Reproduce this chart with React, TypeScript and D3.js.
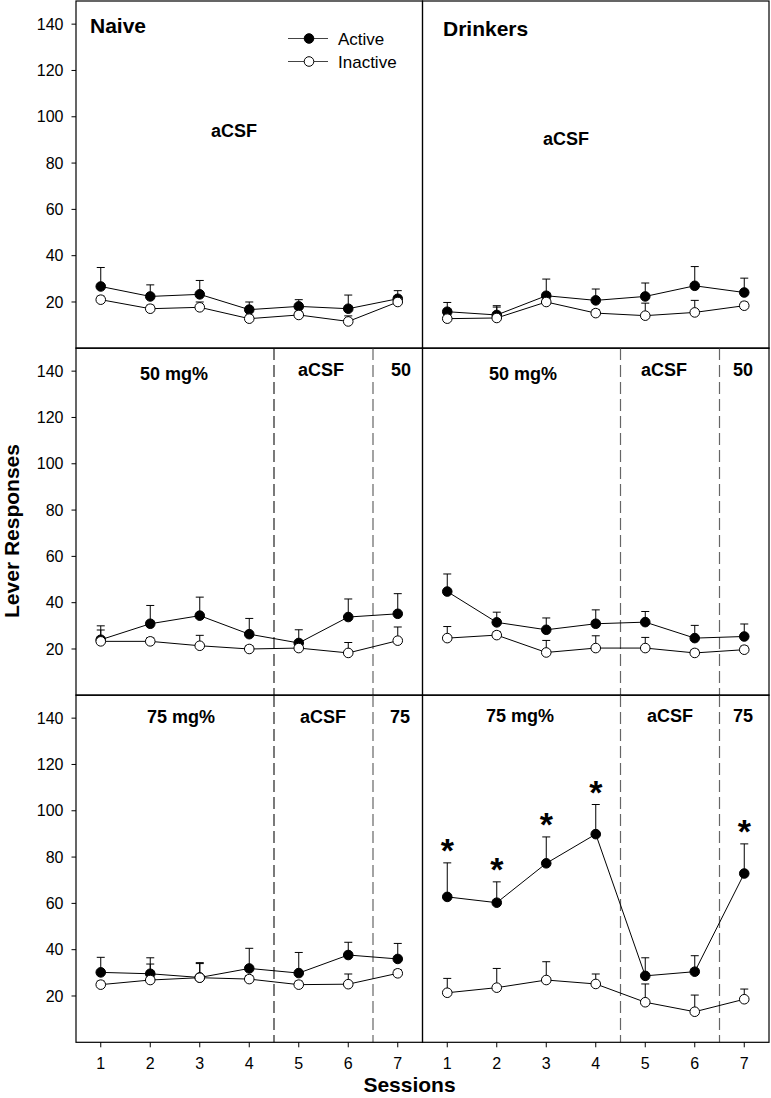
import React from "react";
import * as d3 from "d3";

const width = 771;
const height = 1098;

const sessions = [1, 2, 3, 4, 5, 6, 7];
const yTicks = [20, 40, 60, 80, 100, 120, 140];

// Naive, aCSF
const naiveAcsfActive = [26.7, 22.4, 23.3, 16.7, 18.1, 17.1, 21.4];
const naiveAcsfActiveErr = [8.2, 5.0, 6.0, 3.3, 2.9, 5.9, 3.5];
const naiveAcsfInactive = [21.0, 17.1, 17.7, 12.8, 14.4, 11.6, 20.0];
const naiveAcsfInactiveErr = [1.5, 1.5, 2.3, 1.5, 1.5, 2.4, 1.5];

// Drinkers, aCSF
const drinkAcsfActive = [15.8, 14.4, 22.7, 20.7, 22.4, 27.0, 24.1];
const drinkAcsfActiveErr = [4.0, 4.0, 7.2, 4.9, 5.8, 8.3, 6.2];
const drinkAcsfInactive = [12.8, 13.1, 20.0, 15.2, 14.1, 15.5, 18.4];
const drinkAcsfInactiveErr = [1.5, 4.7, 1.5, 1.5, 5.4, 5.2, 1.5];

// Naive, 50 mg%
const naive50Active = [24.0, 30.9, 34.4, 26.4, 22.6, 33.8, 35.2];
const naive50ActiveErr = [6.0, 7.9, 8.0, 6.8, 5.7, 7.8, 8.7];
const naive50Inactive = [23.3, 23.3, 21.4, 20.0, 20.4, 18.3, 23.6];
const naive50InactiveErr = [4.9, 1.5, 4.5, 1.5, 1.5, 4.5, 5.9];

// Drinkers, 50 mg%
const drink50Active = [44.8, 31.5, 28.3, 30.9, 31.6, 24.7, 25.4];
const drink50ActiveErr = [7.6, 4.4, 5.1, 6.0, 4.6, 5.5, 5.4];
const drink50Inactive = [24.7, 26.0, 18.5, 20.4, 20.4, 18.3, 19.7];
const drink50InactiveErr = [5.0, 1.5, 5.2, 5.3, 4.6, 1.5, 1.5];

// Naive, 75 mg%
const naive75Active = [30.2, 29.6, 28.0, 31.9, 29.9, 37.7, 36.0];
const naive75ActiveErr = [6.5, 6.9, 6.4, 8.7, 8.9, 5.5, 6.7];
const naive75Inactive = [24.9, 26.9, 27.9, 27.3, 24.9, 25.1, 29.8];
const naive75InactiveErr = [1.5, 6.9, 6.1, 1.5, 1.5, 4.4, 1.5];

// Drinkers, 75 mg%
const drink75Active = [62.8, 60.3, 77.3, 89.9, 28.7, 30.5, 72.9];
const drink75ActiveErr = [14.7, 9.0, 11.4, 12.8, 7.8, 6.9, 12.8];
const drink75Inactive = [21.4, 23.6, 26.9, 25.2, 17.3, 13.2, 18.6];
const drink75InactiveErr = [6.2, 8.3, 7.9, 4.3, 7.9, 7.2, 4.4];
const drink75Stars = [1, 2, 3, 4, 7];

const font = "'Liberation Sans', Arial, sans-serif";

const rowTops = [1, 348, 695];
const rowH = 347.3;
const colRanges = [
  [76, 422.5],
  [422.5, 769],
];

const panels = [
  {
    row: 0, col: 0,
    active: naiveAcsfActive, activeErr: naiveAcsfActiveErr,
    inactive: naiveAcsfInactive, inactiveErr: naiveAcsfInactiveErr,
    dashed: false,
    labels: [
      { text: "Naive", x: 90, y: 33, size: 21, anchor: "start" },
      { text: "aCSF", x: 234, y: 137, size: 18 },
    ],
    stars: [] as number[],
  },
  {
    row: 0, col: 1,
    active: drinkAcsfActive, activeErr: drinkAcsfActiveErr,
    inactive: drinkAcsfInactive, inactiveErr: drinkAcsfInactiveErr,
    dashed: false,
    labels: [
      { text: "Drinkers", x: 443, y: 36, size: 21, anchor: "start" },
      { text: "aCSF", x: 566, y: 145, size: 18 },
    ],
    stars: [] as number[],
  },
  {
    row: 1, col: 0,
    active: naive50Active, activeErr: naive50ActiveErr,
    inactive: naive50Inactive, inactiveErr: naive50InactiveErr,
    dashed: true,
    labels: [
      { text: "50 mg%", x: 174, y: 380, size: 18 },
      { text: "aCSF", x: 321, y: 376, size: 18 },
      { text: "50", x: 401, y: 376, size: 18 },
    ],
    stars: [] as number[],
  },
  {
    row: 1, col: 1,
    active: drink50Active, activeErr: drink50ActiveErr,
    inactive: drink50Inactive, inactiveErr: drink50InactiveErr,
    dashed: true,
    labels: [
      { text: "50 mg%", x: 523, y: 380, size: 18 },
      { text: "aCSF", x: 664, y: 376, size: 18 },
      { text: "50", x: 743, y: 376, size: 18 },
    ],
    stars: [] as number[],
  },
  {
    row: 2, col: 0,
    active: naive75Active, activeErr: naive75ActiveErr,
    inactive: naive75Inactive, inactiveErr: naive75InactiveErr,
    dashed: true,
    labels: [
      { text: "75 mg%", x: 181, y: 723, size: 18 },
      { text: "aCSF", x: 323, y: 723, size: 18 },
      { text: "75", x: 400, y: 723, size: 18 },
    ],
    stars: [] as number[],
  },
  {
    row: 2, col: 1,
    active: drink75Active, activeErr: drink75ActiveErr,
    inactive: drink75Inactive, inactiveErr: drink75InactiveErr,
    dashed: true,
    labels: [
      { text: "75 mg%", x: 520, y: 722, size: 18 },
      { text: "aCSF", x: 670, y: 722, size: 18 },
      { text: "75", x: 743, y: 722, size: 18 },
    ],
    stars: drink75Stars,
  },
];

const Series = ({ x, y, values, errs, filled }: any) => {
  const line = d3
    .line<number>()
    .x((d, i) => x(sessions[i]))
    .y((d) => y(d));
  return (
    <g>
      {values.map((v: number, i: number) => {
        const cx = x(sessions[i]);
        const top = y(v + errs[i]);
        return (
          <g key={i} stroke="#000" strokeWidth={1}>
            <line x1={cx} x2={cx} y1={y(v)} y2={top} />
            <line x1={cx - 4} x2={cx + 4} y1={top} y2={top} />
          </g>
        );
      })}
      <path d={line(values) || ""} fill="none" stroke="#000" strokeWidth={1} />
      {values.map((v: number, i: number) => (
        <circle
          key={i}
          cx={x(sessions[i])}
          cy={y(v)}
          r={4.8}
          fill={filled ? "#000" : "#fff"}
          stroke="#000"
          strokeWidth={1}
        />
      ))}
    </g>
  );
};

const Panel = ({ p }: any) => {
  const top = rowTops[p.row];
  const bottom = top + rowH;
  const [x0, x1] = colRanges[p.col];
  const x = d3.scaleLinear().domain([0.5, 7.5]).range([x0, x1]);
  const y = d3.scaleLinear().domain([0, 150]).range([bottom, top]);
  return (
    <g>
      {p.dashed &&
        [4.5, 6.5].map((s, i) => (
          <line
            key={s}
            x1={x(s)}
            x2={x(s)}
            y1={top}
            y2={bottom}
            stroke={p.col === 0 && i === 0 ? "#222" : "#666"}
            strokeWidth={1.2}
            strokeDasharray="12,5"
          />
        ))}
      <rect x={x0} y={top} width={x1 - x0} height={bottom - top} fill="none" stroke="#000" strokeWidth={1.2} />
      {p.col === 0 &&
        yTicks.map((t) => (
          <g key={t}>
            <line x1={x0 - 4.5} x2={x0} y1={y(t)} y2={y(t)} stroke="#000" />
            <text
              x={x0 - 12.5}
              y={y(t)}
              dy="0.35em"
              textAnchor="end"
              fontSize={16}
              fontFamily={font}
            >
              {t}
            </text>
          </g>
        ))}
      {p.row === 2 &&
        sessions.map((s) => (
          <g key={s}>
            <line x1={x(s)} x2={x(s)} y1={bottom} y2={bottom + 5} stroke="#000" />
            <text x={x(s)} y={bottom + 27} textAnchor="middle" fontSize={16} fontFamily={font}>
              {s}
            </text>
          </g>
        ))}
      <Series x={x} y={y} values={p.active} errs={p.activeErr} filled />
      <Series x={x} y={y} values={p.inactive} errs={p.inactiveErr} filled={false} />
      {p.stars.map((s: number) => {
        const i = sessions.indexOf(s);
        return (
          <text
            key={s}
            x={x(s)}
            y={y(p.active[i] + p.activeErr[i]) - 20 + 19}
            textAnchor="middle"
            fontSize={34}
            fontWeight="bold"
            fontFamily={font}
          >
            *
          </text>
        );
      })}
      {p.labels.map((l: any) => (
        <text
          key={l.text}
          x={l.x}
          y={l.y}
          textAnchor={l.anchor || "middle"}
          fontSize={l.size}
          fontWeight="bold"
          fontFamily={font}
        >
          {l.text}
        </text>
      ))}
    </g>
  );
};

export default function App() {
  return (
    <svg
      width={width}
      height={height}
      style={{ position: "absolute", left: 0, top: 0, background: "#fff" }}
    >
      {panels.map((p, i) => (
        <Panel key={i} p={p} />
      ))}
      {/* legend */}
      <g fontFamily={font} fontSize={17}>
        <line x1={288} x2={328} y1={38.5} y2={38.5} stroke="#444" />
        <circle cx={309} cy={38.5} r={4.8} fill="#000" stroke="#000" />
        <text x={338} y={44.5}>Active</text>
        <line x1={288} x2={328} y1={61.5} y2={61.5} stroke="#444" />
        <circle cx={309} cy={61.5} r={4.8} fill="#fff" stroke="#000" />
        <text x={338} y={67.5}>Inactive</text>
      </g>
      <text
        x={409.5}
        y={1092}
        textAnchor="middle"
        fontSize={21}
        fontWeight="bold"
        fontFamily={font}
      >
        Sessions
      </text>
      <text
        transform="translate(18.5,531) rotate(-90)"
        textAnchor="middle"
        fontSize={21}
        fontWeight="bold"
        fontFamily={font}
      >
        Lever Responses
      </text>
    </svg>
  );
}
